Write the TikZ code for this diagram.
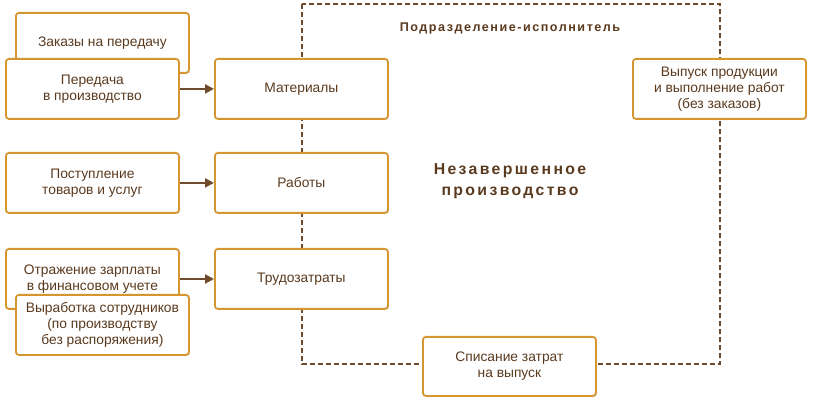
\documentclass[tikz,border=0pt]{standalone}
\usepackage{fontspec}
\setmainfont{Liberation Sans}
\usetikzlibrary{arrows.meta,shadows}
\definecolor{boxline}{HTML}{D6962F}
\definecolor{txt}{HTML}{5A3A1E}
\definecolor{brn}{HTML}{6E4B2D}
\tikzset{
  box/.style={draw=boxline, line width=1.8pt, rounded corners=3pt, fill=white,
    minimum width=173pt, minimum height=60pt, anchor=north west, align=center,
    text=txt, font=\fontsize{13.8}{16}\selectfont, inner sep=2pt,
    drop shadow={opacity=0.18, shadow xshift=1.2pt, shadow yshift=-1.2pt}},
  flow/.style={draw=brn, line width=2pt, -{Triangle[length=9pt,width=9pt]}},
  frame/.style={draw=brn, line width=1.6pt, dash pattern=on 5pt off 3pt},
}
\begin{document}
\begin{tikzpicture}[x=1pt,y=-1pt]
\useasboundingbox (0,0) rectangle (814,403);
\coordinate (f1) at (302,4);
\coordinate (f2) at (720,364);
\draw[frame] (f1) rectangle (f2);
\node[text=txt, font=\bfseries\fontsize{12.6}{14}\selectfont\addfontfeatures{LetterSpace=12}] (title) at (510,28) {Подразделение-исполнитель};
\node[text=txt, align=center, font=\bfseries\fontsize{15.8}{21}\selectfont\addfontfeatures{LetterSpace=15}] (wip) at (510,181) {Незавершенное\\производство};
\node[box] (orders) at (15,12) {Заказы на передачу};
\node[box] (transfer) at (5,58) {Передача\\в производство};
\node[box] (mat) at (214,58) {Материалы};
\node[box] (recv) at (5,152) {Поступление\\товаров и услуг};
\node[box] (works) at (214,152) {Работы};
\node[box] (salary) at (5,248) {Отражение зарплаты\\в финансовом учете};
\node[box] (output) at (15,294) {Выработка сотрудников\\(по производству\\без распоряжения)};
\node[box] (labor) at (214,248) {Трудозатраты};
\node[box] (release) at (632,58) {Выпуск продукции\\и выполнение работ\\(без заказов)};
\node[box, minimum height=59pt] (writeoff) at (422,336) {Списание затрат\\на выпуск};
\draw[flow] (transfer.east) -- (mat.west);
\draw[flow] (recv.east) -- (works.west);
\draw[flow] (salary.east |- 0,279) -- (labor.west |- 0,279);
\end{tikzpicture}
\end{document}
